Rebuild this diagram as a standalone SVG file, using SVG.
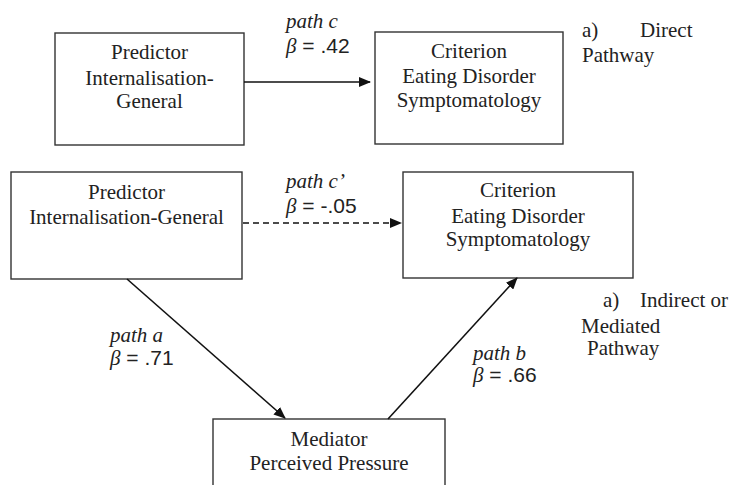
<svg xmlns="http://www.w3.org/2000/svg" width="729" height="485" viewBox="0 0 729 485">
<style>
.box{fill:#fff;stroke:#333;stroke-width:1.4}
.t{font-family:"Liberation Serif","Times New Roman",serif;font-size:21px;fill:#222}
.c{text-anchor:middle}
.i{font-style:italic}
.s{font-family:"Liberation Sans",Arial,sans-serif;font-style:normal}
.ln{stroke:#111;stroke-width:1.6;fill:none}
.dash{stroke-dasharray:6 4}
</style>
<defs>
<marker id="ah" markerWidth="12" markerHeight="10" refX="11" refY="5" orient="auto" markerUnits="userSpaceOnUse">
<path d="M0,0 L12,5 L0,10 Z" fill="#111"/>
</marker>
</defs>
<rect width="729" height="485" fill="#fff"/>
<g id="predictor1">
<rect class="box" x="55" y="33" width="189" height="112"/>
<text class="t c" x="149.5" y="59">Predictor</text>
<text class="t c" x="149.5" y="85">Internalisation-</text>
<text class="t c" x="149.5" y="108">General</text>
</g>
<g id="criterion1">
<rect class="box" x="375" y="32" width="188" height="112"/>
<text class="t c" x="469" y="58">Criterion</text>
<text class="t c" x="469" y="83">Eating Disorder</text>
<text class="t c" x="469" y="107">Symptomatology</text>
</g>
<g id="predictor2">
<rect class="box" x="11" y="172" width="231" height="107"/>
<text class="t c" x="126.5" y="199">Predictor</text>
<text class="t c" x="126.5" y="224">Internalisation-General</text>
</g>
<g id="criterion2">
<rect class="box" x="403" y="172" width="230" height="106"/>
<text class="t c" x="518" y="197">Criterion</text>
<text class="t c" x="518" y="223">Eating Disorder</text>
<text class="t c" x="518" y="246">Symptomatology</text>
</g>
<g id="mediator">
<rect class="box" x="213" y="419" width="232" height="80"/>
<text class="t c" x="329" y="446">Mediator</text>
<text class="t c" x="329" y="470">Perceived Pressure</text>
</g>
<g id="connectors">
<line class="ln" x1="244" y1="82" x2="370" y2="82" marker-end="url(#ah)"/>
<line class="ln dash" x1="243" y1="223" x2="401" y2="223" marker-end="url(#ah)"/>
<line class="ln" x1="127" y1="279" x2="285" y2="418" marker-end="url(#ah)"/>
<line class="ln" x1="388" y1="419" x2="517" y2="278" marker-end="url(#ah)"/>
</g>
<g id="labels">
<text class="t i" x="286" y="28">path c</text>
<text class="t i" x="286" y="53">β<tspan class="s"> = .42</tspan></text>
<text class="t i" x="286" y="188">path c’</text>
<text class="t i" x="286" y="213">β<tspan class="s"> = -.05</tspan></text>
<text class="t i" x="110" y="342">path a</text>
<text class="t i" x="110" y="365">β<tspan class="s"> = .71</tspan></text>
<text class="t i" x="473" y="360">path b</text>
<text class="t i" x="473" y="382">β<tspan class="s"> = .66</tspan></text>
<text class="t" x="582" y="37">a)</text>
<text class="t" x="640" y="37">Direct</text>
<text class="t" x="582" y="62">Pathway</text>
<text class="t" x="603" y="307">a)</text>
<text class="t" x="640" y="307">Indirect or</text>
<text class="t" x="581" y="333">Mediated</text>
<text class="t" x="587" y="355">Pathway</text>
</g>
</svg>
